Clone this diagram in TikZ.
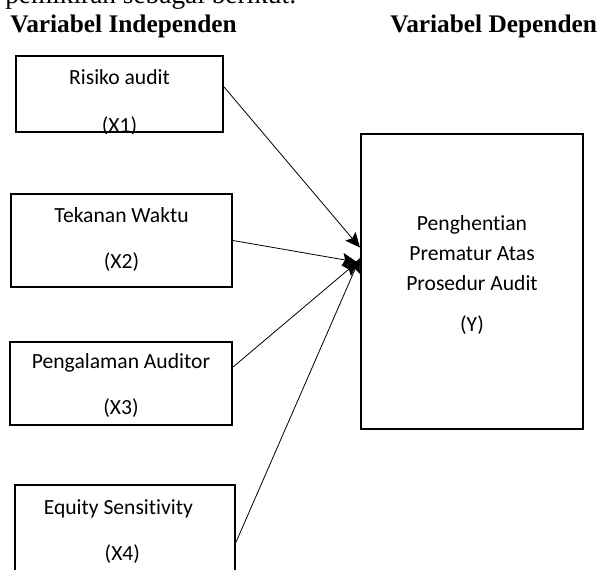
\documentclass[tikz,border=0pt]{standalone}
\usepackage{fontspec}
\setmainfont{Carlito}[Ligatures=NoCommon]
\newfontfamily\headfont{Liberation Serif}
\usetikzlibrary{arrows.meta}
\usetikzlibrary{positioning,calc}

\begin{document}
\begin{tikzpicture}[
  x=0.75pt, y=-0.75pt, >={Stealth[length=11pt,width=10pt,inset=2pt]},
  varbox/.style={rectangle,draw,line width=1.6pt,inner sep=0pt},
  vtext/.style={font=\fontsize{16.2}{20}\selectfont,inner sep=0pt,anchor=base},
  head/.style={font=\headfont\bfseries\fontsize{19}{23}\selectfont,inner sep=0pt,anchor=base west},
  link/.style={->,line width=0.6pt}
]
\useasboundingbox (0,0) rectangle (603,569);

% --- Cut-off line of running text ---
\node[font=\headfont\fontsize{20.5}{24}\selectfont,inner sep=0pt,anchor=base east] (intro) at (297,3) {pemikiran sebagai berikut:};

% --- Headings ---
\node[head] (hind) at (10,32) {Variabel Independen};
\node[head] (hdep) at (390,32) {Variabel Dependen};

% --- Boxes ---
\node[varbox,minimum width=155.25pt,minimum height=57pt]    (x1) at (119.5,94) {};
\node[varbox,minimum width=165.75pt,minimum height=69.75pt] (x2) at (121.5,240.5) {};
\node[varbox,minimum width=166.5pt,minimum height=62.25pt]  (x3) at (121,383.5) {};
\node[varbox,minimum width=165pt,minimum height=67.5pt]     (x4) at (125,530) {};
\node[varbox,minimum width=166.5pt,minimum height=221.25pt] (y)  at (472,281.5) {};

% --- Box texts, cut off by their boxes ---
\begin{scope}
  \clip (x1.south west) rectangle (x1.north east);
  \node[vtext] (x1a) at ([yshift=-22.5pt]x1.north) {Risiko audit};
  \node[vtext] (x1b) at ([yshift=-58.5pt]x1.north) {(X1)};
\end{scope}
\begin{scope}
  \clip (x2.south west) rectangle (x2.north east);
  \node[vtext] (x2a) at ([yshift=-22.5pt]x2.north) {Tekanan Waktu};
  \node[vtext] (x2b) at ([yshift=-57pt]x2.north) {(X2)};
\end{scope}
\begin{scope}
  \clip (x3.south west) rectangle (x3.north east);
  \node[vtext] (x3a) at ([yshift=-21pt]x3.north) {Pengalaman Auditor};
  \node[vtext] (x3b) at ([yshift=-55.5pt]x3.north) {(X3)};
\end{scope}
\node[vtext] (x4a) at ([xshift=-5pt,yshift=-23.25pt]x4.north) {Equity Sensitivity};
\node[vtext] (x4b) at ([xshift=-2pt,yshift=-57.75pt]x4.north) {(X4)};

\node[vtext] (ya) at ([yshift=-73.5pt]y.north) {Penghentian};
\node[vtext] (yb) at ([yshift=-96pt]y.north) {Prematur Atas};
\node[vtext] (yc) at ([yshift=-118.5pt]y.north) {Prosedur Audit};
\node[vtext] (yd) at ([yshift=-149.25pt]y.north) {(Y)};

% --- Arrows into the dependent variable ---
\path[link]
  ([yshift=5.25pt]x1.east) edge ([yshift=25.5pt]y.west)
  (x2.east)                edge ([xshift=-2.25pt,yshift=14.6pt]y.west)
  ([yshift=12.4pt]x3.east) edge ([xshift=-1.5pt,yshift=15pt]y.west)
  ([yshift=-9pt]x4.east)   edge ([yshift=17.6pt]y.west);

\end{tikzpicture}
\end{document}
